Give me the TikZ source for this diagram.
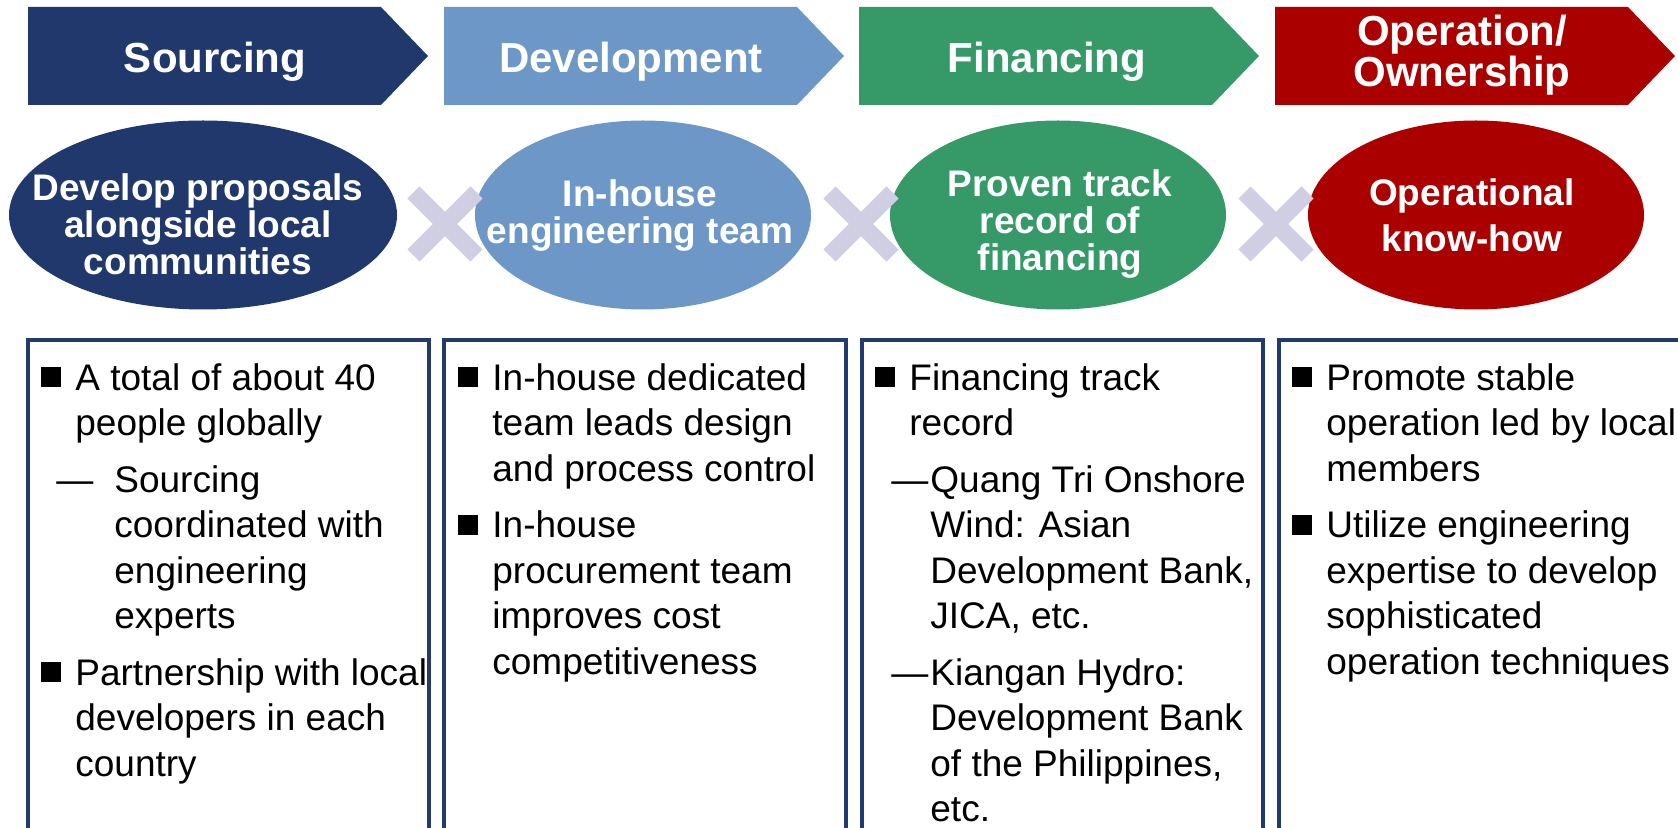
\documentclass[tikz,border=0pt]{standalone}
\usepackage{fontspec}
\setmainfont{Liberation Sans}
\usetikzlibrary{shapes.geometric,shapes.misc}

\definecolor{navy}{RGB}{32,56,108}
\definecolor{skyblue}{RGB}{108,151,198}
\definecolor{leafgreen}{RGB}{53,154,104}
\definecolor{darkred}{RGB}{170,0,0}
\definecolor{lavender}{RGB}{208,206,226}
\definecolor{frame}{RGB}{35,58,112}

% bullet square and hanging indent
\newcommand{\bsq}{\makebox[17pt][l]{\rule[1.5pt]{10pt}{10pt}}}
\newcommand{\ind}{\hspace*{17pt}}

\tikzset{
    head/.style={text=white, font=\fontsize{21}{19}\selectfont\bfseries, align=center, inner sep=0pt},
    oval/.style={ellipse, minimum width=168pt, minimum height=94.5pt, inner sep=0pt},
    ovaltext/.style={text=white, font=\fontsize{18.5}{18.5}\selectfont\bfseries, align=center, inner sep=0pt},
    panel/.style={draw=frame, line width=1.7pt},
    body/.style={anchor=north west, inner sep=0pt, align=left, font=\fontsize{18.5}{22.75}\selectfont},
    cross/.style={cross out, draw=lavender, line width=8.5pt, minimum size=23pt, inner sep=0pt},
}

\begin{document}
\begin{tikzpicture}[x=0.5pt, y=-0.5pt]
    \useasboundingbox (0,0) rectangle (1678,828);

    % chevrons
    \fill[navy] (28,7) -- (381,7) -- (428,56) -- (381,105) -- (28,105) -- cycle;
    \fill[skyblue] (444,7) -- (797,7) -- (844,56) -- (797,105) -- (444,105) -- cycle;
    \fill[leafgreen] (859,7) -- (1212,7) -- (1259,56) -- (1212,105) -- (859,105) -- cycle;
    \fill[darkred] (1275,7) -- (1628,7) -- (1675,56) -- (1628,105) -- (1275,105) -- cycle;
    \node[head] (h1) at (215,62) {Sourcing};
    \node[head] (h2) at (631,62) {Development};
    \node[head] (h3) at (1047,62) {Financing};
    \node[head] (h4) at (1462,55) {Operation/\\Ownership};

    % ellipses
    \node[oval, fill=navy, minimum width=194pt] (e1) at (203,215) {};
    \node[oval, fill=skyblue] (e2) at (643,215) {};
    \node[oval, fill=leafgreen] (e3) at (1058,215) {};
    \node[oval, fill=darkred] (e4) at (1476,215) {};
    \node[ovaltext] (t1) at (198,224) {Develop proposals\\alongside local\\communities};
    \node[ovaltext] (t2) at (640,216) {In-house\\engineering team};
    \node[ovaltext] (t3) at (1060,224) {Proven track\\record of\\financing};
    \node[ovaltext, font=\fontsize{18.5}{23}\selectfont\bfseries] (t4) at (1472,215) {Operational\\know-how};

    % crosses
    \node[cross] (x1) at (445,224) {};
    \node[cross] (x2) at (861,224) {};
    \node[cross] (x3) at (1276,224) {};

    % panels
    \draw[panel] (28,850) -- (28,340) -- (429,340) -- (429,850);
    \draw[panel] (444,850) -- (444,340) -- (846,340) -- (846,850);
    \draw[panel] (862,850) -- (862,340) -- (1263,340) -- (1263,850);
    \draw[panel] (1279,850) -- (1279,340) -- (1700,340);

    \node[body] (b1) at (41,363) {\bsq A total of about 40\\
        \ind people globally\\[5.5pt]
        \hspace*{7.5pt}\makebox[29pt][l]{—}Sourcing\\
        \hspace*{36.5pt}coordinated with\\
        \hspace*{36.5pt}engineering\\
        \hspace*{36.5pt}experts\\[5.5pt]
        \bsq Partnership with local\\
        \ind developers in each\\
        \ind country};
    \node[body] (b2) at (458,363) {\bsq In-house dedicated\\
        \ind team leads design\\
        \ind and process control\\[5.5pt]
        \bsq In-house\\
        \ind procurement team\\
        \ind improves cost\\
        \ind competitiveness};
    \node[body] (b3) at (875,363) {\bsq Financing track\\
        \ind record\\[5.5pt]
        \hspace*{8pt}\makebox[19.5pt][l]{—}Quang Tri Onshore\\
        \hspace*{27.5pt}Wind: Asian\\
        \hspace*{27.5pt}Development Bank,\\
        \hspace*{27.5pt}JICA, etc.\\[5.5pt]
        \hspace*{8pt}\makebox[19.5pt][l]{—}Kiangan Hydro:\\
        \hspace*{27.5pt}Development Bank\\
        \hspace*{27.5pt}of the Philippines,\\
        \hspace*{27.5pt}etc.};
    \node[body] (b4) at (1292,363) {\bsq Promote stable\\
        \ind operation led by local\\
        \ind members\\[5.5pt]
        \bsq Utilize engineering\\
        \ind expertise to develop\\
        \ind sophisticated\\
        \ind operation techniques};
\end{tikzpicture}
\end{document}
